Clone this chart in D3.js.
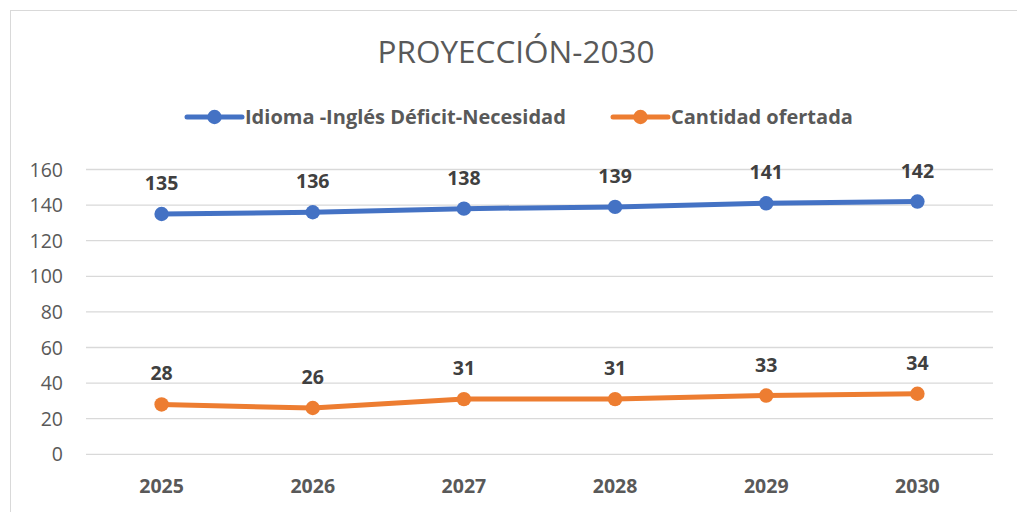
<!DOCTYPE html>
<html>
<head>
<meta charset="utf-8">
<script src="https://cdn.jsdelivr.net/npm/d3@7"></script>
<style>
  body { margin: 0; background: #fff; }
  text { font-family: "Open Sans", sans-serif; }
</style>
</head>
<body>
<svg id="chart" width="1017" height="512"></svg>
<script>
const years = ['2025', '2026', '2027', '2028', '2029', '2030']
const deficit = [135, 136, 138, 139, 141, 142]
const ofertada = [28, 26, 31, 31, 33, 34]
const yTicks = [0, 20, 40, 60, 80, 100, 120, 140, 160]
const seriesNames = ['Idioma -Inglés Déficit-Necesidad', 'Cantidad ofertada']
const colors = ['#4472C4', '#ED7D31']

const svg = d3.select('#chart')

// chart frame
svg.append('rect')
    .attr('x', 10.5).attr('y', 10.5)
    .attr('width', 1020).attr('height', 520)
    .attr('fill', '#fff')
    .attr('stroke', '#D9D9D9')
    .attr('stroke-width', 1)

const x = d3.scaleBand().domain(years).range([86, 993])
const y = d3.scaleLinear().domain([0, 160]).range([454.3, 169.5])

// gridlines
svg.append('g')
    .selectAll('line')
    .data(yTicks)
    .enter()
    .append('line')
    .attr('x1', 86).attr('x2', 993)
    .attr('y1', d => y(d)).attr('y2', d => y(d))
    .attr('stroke', '#D9D9D9')
    .attr('stroke-width', 1.3)

// y labels
svg.append('g')
    .selectAll('text')
    .data(yTicks)
    .enter()
    .append('text')
    .attr('x', 63)
    .attr('y', d => y(d) + 7)
    .attr('text-anchor', 'end')
    .style('font-size', '19.5px')
    .style('fill', '#595959')
    .text(d => d)

// x labels
svg.append('g')
    .selectAll('text')
    .data(years)
    .enter()
    .append('text')
    .attr('x', d => x(d) + x.bandwidth() / 2)
    .attr('y', 493)
    .attr('text-anchor', 'middle')
    .style('font-size', '19.5px')
    .style('font-weight', 'bold')
    .style('fill', '#595959')
    .text(d => d)

// title
svg.append('text')
    .attr('x', 516).attr('y', 63)
    .attr('text-anchor', 'middle')
    .style('font-size', '31.5px')
    .style('fill', '#595959')
    .text('PROYECCIÓN-2030')

const line = d3.line()
    .x((d, i) => x(years[i]) + x.bandwidth() / 2)
    .y(d => y(d))

;[deficit, ofertada].forEach((vals, s) => {
    const g = svg.append('g')
    g.append('path')
        .datum(vals)
        .attr('d', line)
        .attr('fill', 'none')
        .attr('stroke', colors[s])
        .attr('stroke-width', 5)
        .attr('stroke-linejoin', 'round')
    g.selectAll('circle')
        .data(vals)
        .enter()
        .append('circle')
        .attr('cx', (d, i) => x(years[i]) + x.bandwidth() / 2)
        .attr('cy', d => y(d))
        .attr('r', 7.2)
        .attr('fill', colors[s])
    g.selectAll('text')
        .data(vals)
        .enter()
        .append('text')
        .attr('x', (d, i) => x(years[i]) + x.bandwidth() / 2)
        .attr('y', d => y(d) - 24)
        .attr('text-anchor', 'middle')
        .style('font-size', '19.5px')
        .style('font-weight', 'bold')
        .style('fill', '#404040')
        .text(d => d)
})

// legend
const legendX = [187, 613]
seriesNames.forEach((name, s) => {
    const lg = svg.append('g').attr('transform', `translate(${legendX[s]},117)`)
    lg.append('line')
        .attr('x1', 0).attr('x2', 55)
        .attr('stroke', colors[s])
        .attr('stroke-width', 5)
        .attr('stroke-linecap', 'round')
    lg.append('circle').attr('cx', 27.5).attr('r', 7.2).attr('fill', colors[s])
    lg.append('text')
        .attr('x', 58).attr('y', 7)
        .style('font-size', '20px')
        .style('font-weight', 'bold')
        .style('fill', '#595959')
        .text(name)
})
</script>
</body>
</html>
